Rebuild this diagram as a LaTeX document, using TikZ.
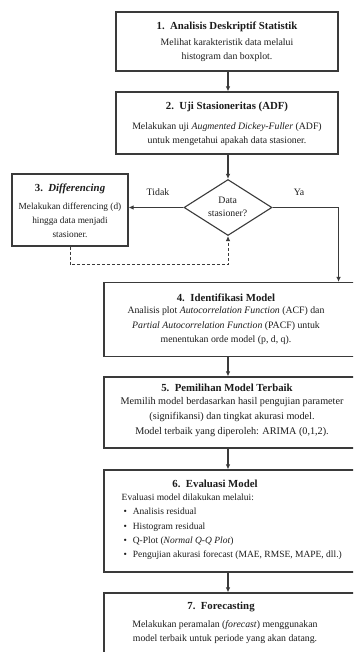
\documentclass[tikz,border=0pt]{standalone}
\usepackage{fontspec}
\setmainfont{Liberation Serif}
\usetikzlibrary{shapes.geometric,arrows.meta}
\definecolor{linec}{HTML}{3A3A3A}
\definecolor{txtc}{HTML}{1C1C1C}
\tikzset{
  box/.style={draw=linec, line width=1.1pt, rectangle, inner sep=0pt},
  ttl/.style={font=\fontsize{10.8}{13}\selectfont\bfseries, text=txtc, inner sep=0pt},
  bod/.style={font=\fontsize{9.8}{14.2}\selectfont, text=txtc, align=center, inner sep=0pt},
  lbl/.style={font=\fontsize{9.8}{12}\selectfont, text=txtc, inner sep=0pt},
  arr/.style={draw=linec, line width=1.1pt, -{Latex[length=5pt,width=4.5pt]}},
  darr/.style={arr, dashed, line width=0.9pt, dash pattern=on 3pt off 2pt}
}
\begin{document}
\begin{tikzpicture}[x=1pt,y=-1pt]
\path[use as bounding box, clip] (0,0) rectangle (353,652);
\fill[white] (0,0) rectangle (353,652);

% boxes
\node[box, minimum width=222pt, minimum height=59pt] (b1) at (227,41.5) {};
\node[box, minimum width=222pt, minimum height=62pt] (b2) at (227,123) {};
\node[box, minimum width=116pt, minimum height=72pt] (b3) at (70,210) {};
\node[draw=linec, line width=1.1pt, diamond, inner sep=0pt, minimum width=88pt, minimum height=56pt] (d) at (228,207.5) {};
\node[box, minimum width=254pt, minimum height=74pt] (b4) at (231,319.5) {};
\node[box, minimum width=254pt, minimum height=71pt] (b5) at (231,412.5) {};
\node[box, minimum width=254pt, minimum height=102pt] (b6) at (231,521) {};
\node[box, minimum width=254pt, minimum height=72pt] (b7) at (231,629) {};

% texts
\node[ttl] (t1) at (227,26.7) {1.\ \ Analisis Deskriptif Statistik};
\node[bod] (p1) at (227,50) {Melihat karakteristik data melalui\\histogram dan boxplot.};
\node[ttl] (t2) at (227,107.3) {2.\ \ Uji Stasioneritas (ADF)};
\node[bod] (p2) at (227,134.2) {Melakukan uji \textit{Augmented Dickey-Fuller} (ADF)\\untuk mengetahui apakah data stasioner.};
\node[ttl] (t3) at (70,189.3) {3.\ \ \textit{Differencing}};
\node[bod, font=\fontsize{9.3}{14.2}\selectfont] (p3) at (70,220) {Melakukan differencing (d)\\hingga data menjadi\\stasioner.};
\node[bod, font=\fontsize{9.8}{13.2}\selectfont] (dt) at (227.7,206.7) {Data\\stasioner?};
\node[ttl] (t4) at (226,297.3) {4.\ \ Identifikasi Model};
\node[bod] (p4) at (226,325.8) {Analisis plot \textit{Autocorrelation Function} (ACF) dan\\\textit{Partial Autocorrelation Function} (PACF) untuk\\menentukan orde model (p, d, q).};
\node[ttl] (t5) at (227,388) {5.\ \ Pemilihan Model Terbaik};
\node[bod, font=\fontsize{10.2}{15}\selectfont] (p5) at (232,417.5) {Memilih model berdasarkan hasil pengujian parameter\\(signifikansi) dan tingkat akurasi model.\\Model terbaik yang diperoleh: ARIMA (0,1,2).};
\node[ttl] (t6) at (215,484) {6.\ \ Evaluasi Model};
\node[bod, align=left, anchor=west, font=\fontsize{9.5}{14.3}\selectfont] (p6) at (121.5,527) {Evaluasi model dilakukan melalui:\\
\hspace*{1.8pt}\textbullet\hspace{6pt}Analisis residual\\
\hspace*{1.8pt}\textbullet\hspace{6pt}Histogram residual\\
\hspace*{1.8pt}\textbullet\hspace{6pt}Q-Plot (\textit{Normal Q-Q Plot})\\
\hspace*{1.8pt}\textbullet\hspace{6pt}Pengujian akurasi forecast (MAE, RMSE, MAPE, dll.)};
\node[ttl] (t7) at (221,607.3) {7.\ \ Forecasting};
\node[bod] (p7) at (225,632) {Melakukan peramalan (\textit{forecast}) menggunakan\\model terbaik untuk periode yang akan datang.};

% labels
\node[lbl] (lt) at (158,192.3) {Tidak};
\node[lbl] (ly) at (299,192.3) {Ya};

% connectors
\draw[arr] (b1.south -| d) -- (b2.north -| d);
\draw[arr] (b2.south -| d) -- (d.north);
\draw[arr] (d.west) -- (d.west -| b3.east);
\draw[arr] (d.east) -| (b2.east |- b4.north);
\draw[darr] (b3.south) -- ++(0,18) -| (d.south);
\draw[arr] (b4.south -| d) -- (b5.north -| d);
\draw[arr] (b5.south -| d) -- (b6.north -| d);
\draw[arr] (b6.south -| d) -- (b7.north -| d);
\end{tikzpicture}
\end{document}
